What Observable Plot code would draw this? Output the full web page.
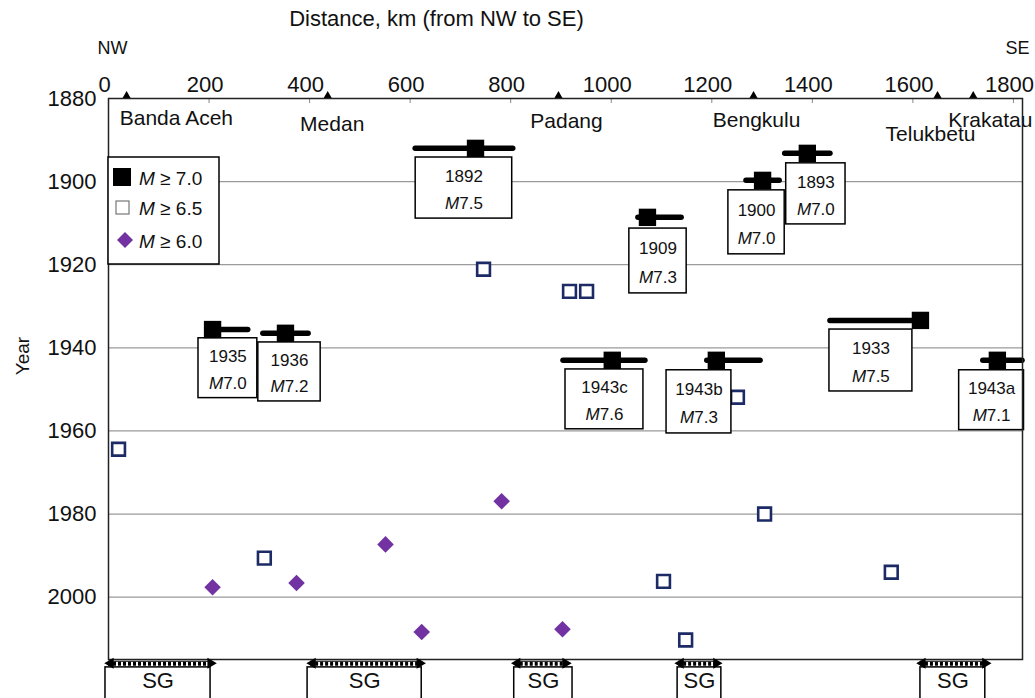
<!DOCTYPE html>
<html><head><meta charset="utf-8">
<script src="https://cdn.jsdelivr.net/npm/d3@7"></script>
<script src="https://cdn.jsdelivr.net/npm/@observablehq/plot@0.6"></script>
<style>
body{margin:0;background:#fff;}
#chart svg{display:block;}
</style></head><body><div id="chart"></div>
<script>
// ---- data ----
const xTicks = [0,200,400,600,800,1000,1200,1400,1600,1800];
const yTicks = [1880,1900,1920,1940,1960,1980,2000];
const gridYears = [1900,1920,1940,1960,1980,2000];

const towns = ["Banda Aceh","Medan","Padang","Bengkulu","Telukbetu","Krakatau"];
const townKm = [36,436,895,1283,1649,1720];
const townLabelKm = [135,445,911,1289,1635,1754];
const townLabelYear = [1884.7,1886.3,1885.4,1885.3,1888.7,1885.2];

// M >= 6.5 (open squares)
const m65Km = [20,746,917,951,1251,1305,310,1104,1148,1557];
const m65Year = [1964.4,1921.1,1926.4,1926.4,1951.9,1980.0,1990.6,1996.2,2010.3,1994.0];

// M >= 6.0 (diamonds)
const m60Km = [207,374,551,623,782,903];
const m60Year = [1997.6,1996.6,1987.3,2008.4,1976.9,2007.7];

// M >= 7.0 (filled squares with rupture extents)
const m70Label = ["1892","1893","1900","1909","1933","1935","1936","1943a","1943b","1943c"];
const m70Mag = [7.5,7.0,7.0,7.3,7.5,7.0,7.2,7.1,7.3,7.6];
const m70Km = [730,1390,1301,1072,1615,207,352,1768,1209,1002];
const m70Year = [1892.0,1893.2,1899.7,1908.6,1933.4,1935.6,1936.5,1943.0,1943.0,1943.0];
const ruptureFrom = [611,1346,1269,1054,1436,207,308,1740,1191,905];
const ruptureTo = [805,1436,1335,1140,1615,278,398,1818,1297,1068];

// annotation boxes (km / year extents)
const boxFrom = [611,1348,1233,1036,1434,179,298,1692,1110,909];
const boxTo = [803,1466,1345,1150,1599,296,422,1821,1239,1064];
const boxTop = [1894.2,1895.6,1902.1,1911.3,1935.6,1937.7,1938.7,1945.4,1945.4,1945.2];
const boxBottom = [1908.9,1910.3,1917.5,1926.9,1950.5,1952.1,1952.9,1959.8,1960.6,1959.6];

// seismic gaps (SG)
const sgFrom = [0,402,809,1134,1615];
const sgTo = [207,623,913,1213,1748];
const sgBoxFrom = [-6,396,807,1132,1615];
const sgBoxTo = [203,623,923,1219,1744];

// ---- chart ----
const FONT = '"Liberation Sans", Arial, Helvetica, sans-serif';
const SG_ARROW = 2015.9, SG_TOP = 2016.9, SG_BOTTOM = 2032, SG_TEXT = 2020.2;
const townIdx = d3.range(towns.length);
const i65 = d3.range(m65Km.length);
const i60 = d3.range(m60Km.length);
const i70 = d3.range(m70Label.length);
const iSG = d3.range(sgFrom.length);

const diamond = {draw(ctx, size){const h=Math.sqrt(size/2);ctx.moveTo(0,-h);ctx.lineTo(h,0);ctx.lineTo(0,h);ctx.lineTo(-h,0);ctx.closePath();}};

const plot = Plot.plot({
  width: 1035, height: 698,
  marginTop: 98, marginLeft: 108, marginRight: 13, marginBottom: 39,
  style: {fontFamily: FONT, color: "#111", background: "white", overflow: "visible"},
  x: {domain: [0, 1818]},
  y: {domain: [1880, 2015], reverse: true},
  marks: [
    Plot.ruleY(gridYears, {stroke: "#9a9a9a", strokeWidth: 1.2}),
    Plot.tickX(xTicks, {stroke: "#888", insetBottom: 556}),
    Plot.axisX({ticks: xTicks, anchor: "top", tickSize: 0, tickPadding: 7, dx: -4, fontSize: 22, label: null, tickFormat: d => String(d)}),
    Plot.axisY({ticks: yTicks, anchor: "left", tickSize: 0, tickPadding: 12, fontSize: 22, label: null, tickFormat: d => String(d)}),
    Plot.text(["Distance, km (from NW to SE)"], {text: d => d, frameAnchor: "top", lineAnchor: "middle", textAnchor: "middle", dx: -129, dy: -80, fontSize: 22}),
    Plot.text(["NW"], {text: d => d, frameAnchor: "top-left", lineAnchor: "middle", textAnchor: "middle", dx: 4, dy: -50, fontSize: 18}),
    Plot.text(["SE"], {text: d => d, frameAnchor: "top-right", lineAnchor: "middle", textAnchor: "middle", dx: -5, dy: -50, fontSize: 18}),
    Plot.text(["Year"], {text: d => d, frameAnchor: "left", lineAnchor: "middle", textAnchor: "middle", dx: -86, dy: -23, rotate: -90, fontSize: 19}),
    // towns
    Plot.dot(townIdx, {x: i => townKm[i], y: () => 1880, symbol: "triangle", fill: "black", r: 3.2, dy: -2.5}),
    Plot.text(townIdx, {x: i => townLabelKm[i], y: i => townLabelYear[i], text: i => towns[i], fontSize: 21}),
    // M>=6.5 and M>=6.0
    Plot.dot(i65, {x: i => m65Km[i], y: i => m65Year[i], symbol: "square", r: 7.2, fill: "white", stroke: "#1c2a66", strokeWidth: 2.6}),
    Plot.dot(i60, {x: i => m60Km[i], y: i => m60Year[i], symbol: diamond, r: 6.6, fill: "#7232a2"}),
    // annotation boxes
    Plot.rect(i70, {x1: i => boxFrom[i], x2: i => boxTo[i], y1: i => boxTop[i], y2: i => boxBottom[i], fill: "white", stroke: "black", strokeWidth: 1.5}),
    Plot.text(i70, {x: i => (boxFrom[i] + boxTo[i]) / 2, y: i => boxTop[i] + 0.31 * (boxBottom[i] - boxTop[i]), text: i => m70Label[i], fontSize: 17}),
    Plot.text(i70, {x: i => (boxFrom[i] + boxTo[i]) / 2, y: i => boxTop[i] + 0.755 * (boxBottom[i] - boxTop[i]), text: i => "M" + m70Mag[i].toFixed(1), fontSize: 17}),
    // ruptures and M>=7 squares
    Plot.ruleY(i70, {y: i => m70Year[i], x1: i => ruptureFrom[i], x2: i => ruptureTo[i], stroke: "black", strokeWidth: 5.5, strokeLinecap: "round"}),
    Plot.dot(i70, {x: i => m70Km[i], y: i => m70Year[i], symbol: "square", r: 9.8, fill: "black"}),
    Plot.frame({stroke: "#222", strokeWidth: 1.5}),
    // seismic gaps
    Plot.rect(iSG, {x1: i => sgBoxFrom[i], x2: i => sgBoxTo[i], y1: () => SG_TOP, y2: () => SG_BOTTOM, fill: "white", stroke: "black", strokeWidth: 1.5}),
    Plot.text(iSG, {x: i => (sgBoxFrom[i] + sgBoxTo[i]) / 2, y: () => SG_TEXT, text: () => "SG", fontSize: 22}),
    Plot.ruleY(iSG, {y: () => SG_ARROW, x1: i => sgFrom[i], x2: i => sgTo[i], stroke: "black", strokeWidth: 1.2, dy: -2}),
    Plot.ruleY(iSG, {y: () => SG_ARROW, x1: i => sgFrom[i], x2: i => sgTo[i], stroke: "black", strokeWidth: 4, strokeDasharray: "3,2", dy: 0.5}),
    Plot.dot(iSG, {x: i => sgTo[i], y: () => SG_ARROW, symbol: "triangle", rotate: 90, r: 4, fill: "black", dx: -2}),
    Plot.dot(iSG, {x: i => sgFrom[i], y: () => SG_ARROW, symbol: "triangle", rotate: -90, r: 4, fill: "black", dx: 2})
  ]
});

// italic M in magnitude labels
d3.select(plot).selectAll("text").each(function(){
  const t = this.textContent;
  if (!/^M\d\.\d$/.test(t)) return;
  const s = d3.select(this);
  s.text(null);
  s.append("tspan").attr("font-style", "italic").text("M");
  s.append("tspan").text(t.slice(1));
});

// legend
const lg = d3.select(plot).append("g").attr("font-family", FONT).attr("font-size", 19).attr("text-anchor", "start");
lg.append("rect").attr("x", 108).attr("y", 157).attr("width", 111).attr("height", 107)
  .attr("fill", "white").attr("stroke", "black").attr("stroke-width", 1.5);
lg.append("rect").attr("x", 113).attr("y", 168).attr("width", 18).attr("height", 18).attr("fill", "black");
lg.append("rect").attr("x", 116).attr("y", 201).attr("width", 13).attr("height", 13)
  .attr("fill", "white").attr("stroke", "#777").attr("stroke-width", 1.2);
lg.append("path").attr("d", "M125,232L133,240L125,248L117,240Z").attr("fill", "#7232a2");
[["≥ 7.0", 178], ["≥ 6.5", 208], ["≥ 6.0", 241]].forEach(([t, y]) => {
  const tx = lg.append("text").attr("x", 139).attr("y", y).attr("dy", "0.35em").attr("fill", "#111");
  tx.append("tspan").attr("font-style", "italic").text("M");
  tx.append("tspan").text(" " + t);
});

document.getElementById("chart").appendChild(plot);
</script>
</body></html>
